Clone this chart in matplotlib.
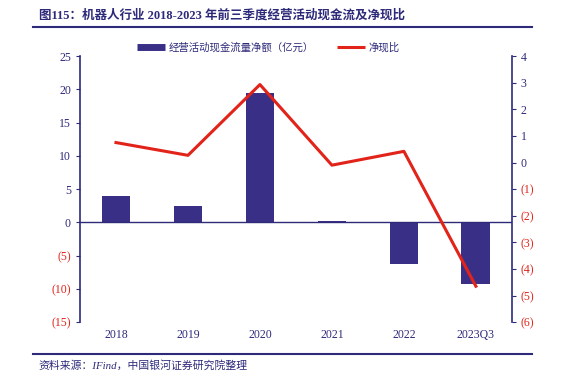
import matplotlib.pyplot as plt
from matplotlib.lines import Line2D
from matplotlib.ticker import FuncFormatter
import numpy as np

categories = ["2018", "2019", "2020", "2021", "2022", "2023Q3"]
cash_flow = [3.9, 2.5, 19.5, 0.2, -6.3, -9.3]        # 经营活动现金流量净额(亿元)
net_ratio = [0.75, 0.27, 2.93, -0.1, 0.42, -4.65]     # 净现比

navy = "#2E2A7A"
bar_color = "#3A2F86"
red = "#E2231A"
fam = ["Liberation Serif", "Noto Sans CJK SC"]

plt.rcParams["font.family"] = fam

fig = plt.figure(figsize=(5.86, 3.79), dpi=100)
ax = fig.add_axes([0.1365, 0.150, 0.737, 0.702])
ax2 = ax.twinx()

x = np.arange(len(categories))
ax.bar(x, cash_flow, width=0.4, color=bar_color, zorder=2)
ax.axhline(0, color=navy, lw=1.0, zorder=3)
ax2.plot(x, net_ratio, color=red, lw=2.2, zorder=4)

ax.set_xlim(-0.5, 5.5)
ax.set_ylim(-15, 25)
ax.set_yticks(range(-15, 26, 5))
ax2.set_ylim(-6, 4)
ax2.set_yticks(range(-6, 5, 1))

def fmt(v, pos):
    v = int(round(v))
    return f"({abs(v)})" if v < 0 else f"{v}"

ax.yaxis.set_major_formatter(FuncFormatter(fmt))
ax2.yaxis.set_major_formatter(FuncFormatter(fmt))

ax.set_xticks(x)
ax.set_xticklabels(categories)
ax.tick_params(axis="x", length=0, pad=5, labelsize=8.5, labelcolor=navy)
ax.tick_params(axis="y", direction="out", length=3, color=navy, labelsize=8.5, labelcolor=navy)
ax2.tick_params(axis="y", direction="out", length=3, color=navy, labelsize=8.5, labelcolor=navy)

for a in (ax, ax2):
    for lab, v in zip(a.get_yticklabels(), a.get_yticks()):
        if v < 0:
            lab.set_color(red)

for a in (ax, ax2):
    for s in ("top", "bottom"):
        a.spines[s].set_visible(False)
ax.spines["left"].set_color(navy)
ax.spines["left"].set_linewidth(1.2)
ax.spines["right"].set_visible(False)
ax2.spines["left"].set_visible(False)
ax2.spines["right"].set_color(navy)
ax2.spines["right"].set_linewidth(1.2)

handles = [Line2D([0], [0], color=bar_color, lw=5, solid_capstyle="butt"),
           Line2D([0], [0], color=red, lw=2.2, solid_capstyle="butt")]
fig.legend(handles, ["经营活动现金流量净额（亿元）", "净现比"], loc="center",
           bbox_to_anchor=(0.458, 0.876), ncol=2, frameon=False, fontsize=7.5,
           handlelength=2.6, columnspacing=2.3, handletextpad=0.35,
           labelcolor=navy)

fig.text(0.066, 0.958, "图115：机器人行业 2018-2023 年前三季度经营活动现金流及净现比",
         fontsize=9, fontweight="bold", color=navy, va="center", ha="left")
fig.add_artist(Line2D([0.056, 0.908], [0.929, 0.929], color=navy, lw=1.5))
fig.add_artist(Line2D([0.056, 0.908], [0.066, 0.066], color=navy, lw=1.5))
fig.text(0.065, 0.037, "资料来源：IFind，中国银河证券研究院整理", fontsize=7.8,
         color=navy, style="italic", va="center", ha="left")

fig.savefig("out.png", dpi=100)
